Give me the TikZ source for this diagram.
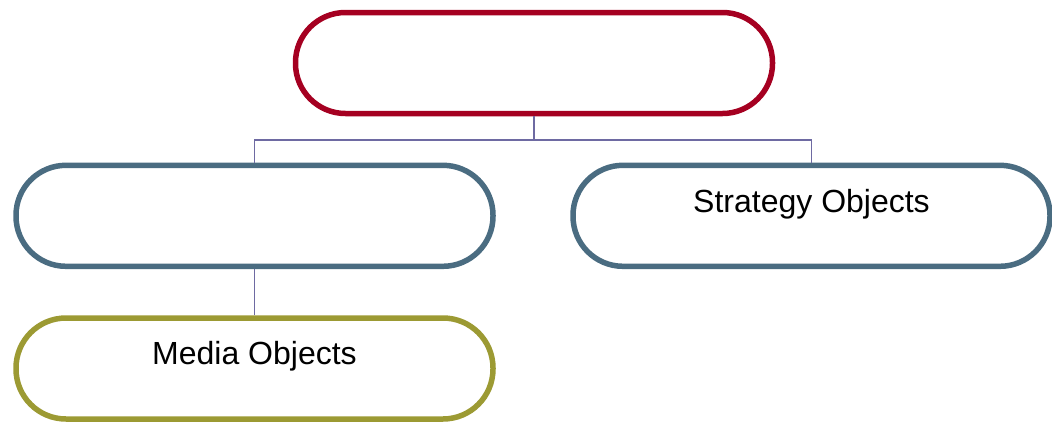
\documentclass[tikz,border=0pt]{standalone}
\usepackage{fontspec}
\setmainfont{Liberation Sans}
\definecolor{topred}{HTML}{A50021}
\definecolor{midblue}{HTML}{4A6C81}
\definecolor{olivebox}{HTML}{9C9A33}
\definecolor{linkcol}{HTML}{6E6AA2}
\begin{document}
\begin{tikzpicture}[x=1pt,y=-1pt,
  pill/.style={draw, rectangle, rounded corners=50pt, minimum width=477pt,
    minimum height=101pt, line width=5.5pt, inner sep=0pt, fill=white,
    font=\fontsize{32}{38}\selectfont, text height=23pt, text depth=30.6pt},
  link/.style={draw=linkcol, line width=1.2pt}]
\useasboundingbox (0,0) rectangle (1052,421);
\node[pill, draw=topred] (top) at (534,63) {};
\node[pill, draw=midblue] (left) at (254.5,215.8) {};
\node[pill, draw=midblue] (right) at (811.5,215.8) {Strategy Objects};
\node[pill, draw=olivebox] (media) at (254.5,368.5) {Media Objects};
\coordinate (j) at (534,140);
\draw[link] (top.south) -- (j);
\draw[link] (j) -| (left.north);
\draw[link] (j) -| (right.north);
\draw[link] (left.south) -- (media.north);
\end{tikzpicture}
\end{document}
